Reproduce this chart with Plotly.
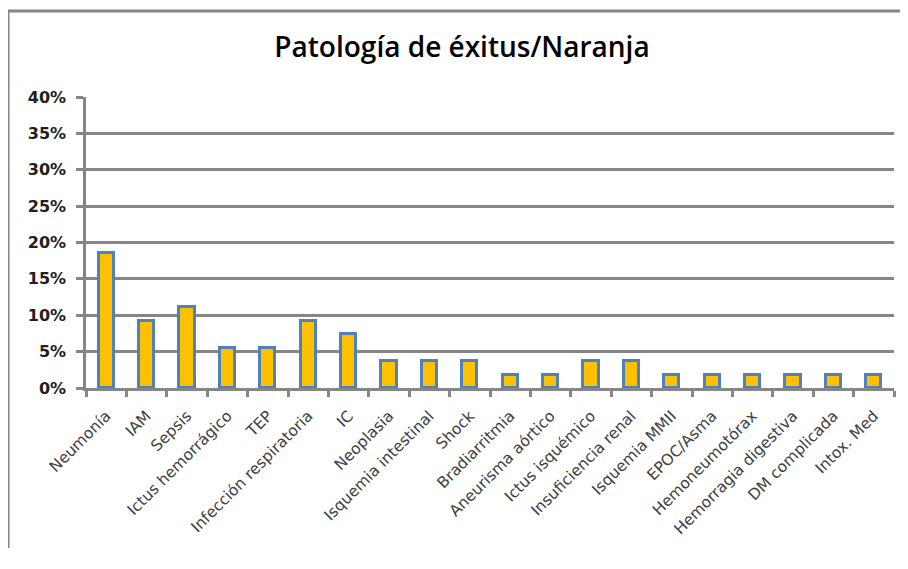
import plotly.graph_objects as go

categories = ["Neumonía", "IAM", "Sepsis", "Ictus hemorrágico", "TEP",
              "Infección respiratoria", "IC", "Neoplasia", "Isquemia intestinal",
              "Shock", "Bradiarritmia", "Aneurisma aórtico", "Ictus isquémico",
              "Insuficiencia renal", "Isquemia MMII", "EPOC/Asma", "Hemoneumotórax",
              "Hemorragia digestiva", "DM complicada", "Intox. Med"]
counts = [10, 5, 6, 3, 3, 5, 4, 2, 2, 2, 1, 1, 2, 2, 1, 1, 1, 1, 1, 1]
total = 54
values = [c / total for c in counts]
y_ticks = [0, 0.05, 0.10, 0.15, 0.20, 0.25, 0.30, 0.35, 0.40]

GRID = "#868686"
OFF = 8  # page body offset

W, H = 892, 540
L = 86 - OFF
R = OFF + W - 894
T = 97 - OFF
B = OFF + H - 388
pw, ph = W - L - R, H - T - B


def px(xp):
    return (xp - OFF - L) / pw


def py(yp):
    return (H - B - (yp - OFF)) / ph


fig = go.Figure(go.Bar(
    x=categories, y=values, width=0.38,
    marker=dict(color="#FFC000", line=dict(color="#4F81BD", width=3)),
))

fig.update_layout(
    width=W, height=H,
    margin=dict(l=L, r=R, t=T, b=B),
    plot_bgcolor="white", paper_bgcolor="white",
    showlegend=False,
    title=dict(text="Patología de éxitus/Naranja", x=(462 - OFF) / W, xanchor="center",
               y=1 - (47 - OFF) / H, yanchor="middle",
               font=dict(family="Open Sans", size=28, color="#000000", weight=600)),
    xaxis=dict(
        showline=True, linecolor=GRID, linewidth=2.5,
        ticks="outside", ticklen=6, tickwidth=2.5, tickcolor=GRID,
        tickson="boundaries", tickangle=-45, ticklabelstandoff=10,
        tickfont=dict(family="DejaVu Sans", size=15.5, color="#404040"),
        showgrid=False,
    ),
    yaxis=dict(
        range=[0, 0.4], tickvals=y_ticks, tickformat=".0%",
        showline=True, linecolor=GRID, linewidth=2.5,
        ticks="outside", ticklen=7, tickwidth=2.5, tickcolor=GRID,
        ticklabelstandoff=7,
        showgrid=True, gridcolor=GRID, gridwidth=2.5, zeroline=False,
        tickfont=dict(family="DejaVu Sans", size=16, color="#202020", weight="bold"),
    ),
    bargap=0.0,
    shapes=[
        dict(type="line", xref="paper", yref="paper", x0=px(8), x1=px(8), y0=py(11), y1=py(OFF + H),
             line=dict(color=GRID, width=3)),
        dict(type="line", xref="paper", yref="paper", x0=px(8), x1=px(OFF + W), y0=py(11), y1=py(11),
             line=dict(color=GRID, width=3)),
    ],
)

fig.write_html("out.html")
